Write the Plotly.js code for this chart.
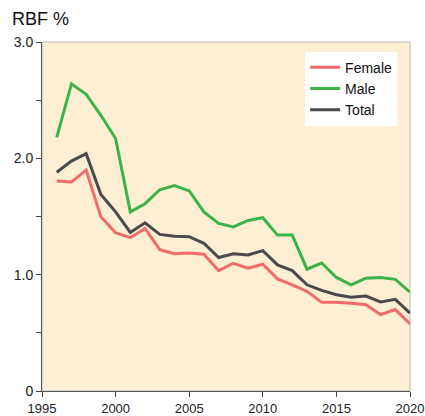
<!DOCTYPE html>
<html>
<head>
<meta charset="utf-8">
<script src="https://cdn.plot.ly/plotly-3.0.1.min.js"></script>
<style>html,body{margin:0;padding:0;background:#fff}#chart{width:425px;height:416px}</style>
</head>
<body>
<div id="chart"></div>
<script>
var years = [1996,1997,1998,1999,2000,2001,2002,2003,2004,2005,2006,2007,2008,2009,2010,2011,2012,2013,2014,2015,2016,2017,2018,2019,2020];
var female = [1.805,1.796,1.90,1.497,1.36,1.318,1.397,1.215,1.18,1.186,1.175,1.035,1.098,1.055,1.09,0.964,0.913,0.856,0.762,0.762,0.754,0.742,0.657,0.70,0.577];
var male = [2.18,2.64,2.55,2.37,2.17,1.54,1.61,1.73,1.765,1.72,1.54,1.44,1.41,1.466,1.49,1.34,1.34,1.047,1.10,0.976,0.913,0.97,0.976,0.96,0.85];
var total = [1.88,1.976,2.04,1.69,1.54,1.363,1.446,1.346,1.33,1.327,1.27,1.147,1.18,1.17,1.207,1.084,1.035,0.913,0.865,0.827,0.805,0.816,0.765,0.788,0.67];
var seriesNames = ['Female','Male','Total'];
var yTickVals = [0,1,2,3];
var yTickText = ['0','1.0','2.0','3.0'];
var xTickVals = [1995,2000,2005,2010,2015,2020];
var xTickText = ['1995','2000','2005','2010','2015','2020'];

var colors = ['#f26b6b','#3bb34a','#4a4a4a'];
var data = [female, male, total].map(function(v,i){
  return {x: years, y: v, type:'scatter', mode:'lines', name: seriesNames[i],
          line:{color: colors[i], width:3}, hoverinfo:'skip', cliponaxis:false};
});
var layout = {
  width:425, height:416,
  margin:{l:42, r:15, t:42, b:24.5},
  paper_bgcolor:'#ffffff', plot_bgcolor:'#fdefd3',
  font:{family:'Liberation Sans, Arial, sans-serif', size:14, color:'#222'},
  title:{text:'RBF %', x:0, xref:'paper', xanchor:'left', y:0.955, yanchor:'middle', pad:{l:-30}, font:{size:18, color:'#111'}},
  showlegend:true,
  legend:{x:0.965, xanchor:'right', y:0.972, yanchor:'top', bgcolor:'#ffffff', borderwidth:0,
          font:{size:14, color:'#111'}, tracegroupgap:0, itemwidth:30},
  xaxis:{range:[1995,2020], tickmode:'array', tickvals:xTickVals, ticktext:xTickText,
         ticks:'outside', ticklen:5, tickcolor:'#444', showgrid:false, zeroline:false,
         ticklabeloverflow:'allow', ticklabelstandoff:0,
         showline:true, linecolor:'#555', linewidth:1, tickfont:{size:13, color:'#222'}, fixedrange:true},
  yaxis:{range:[0,3], tickmode:'array', tickvals:yTickVals, ticktext:yTickText,
         ticks:'outside', ticklen:5, tickcolor:'#444', showgrid:false, zeroline:false,
         minor:{tickmode:'array', tickvals:[0.5,1.5,2.5], ticks:'outside', ticklen:5, tickcolor:'#444'},
         showline:true, linecolor:'#555', linewidth:1, tickfont:{size:14, color:'#222'}, fixedrange:true},
  shapes:[{type:'rect', xref:'paper', yref:'paper', x0:0, x1:1, y0:0, y1:1,
           line:{color:'#b8b8b8', width:1}, layer:'below'}]
};
Plotly.newPlot('chart', data, layout, {displayModeBar:false, staticPlot:true});
</script>
</body>
</html>
